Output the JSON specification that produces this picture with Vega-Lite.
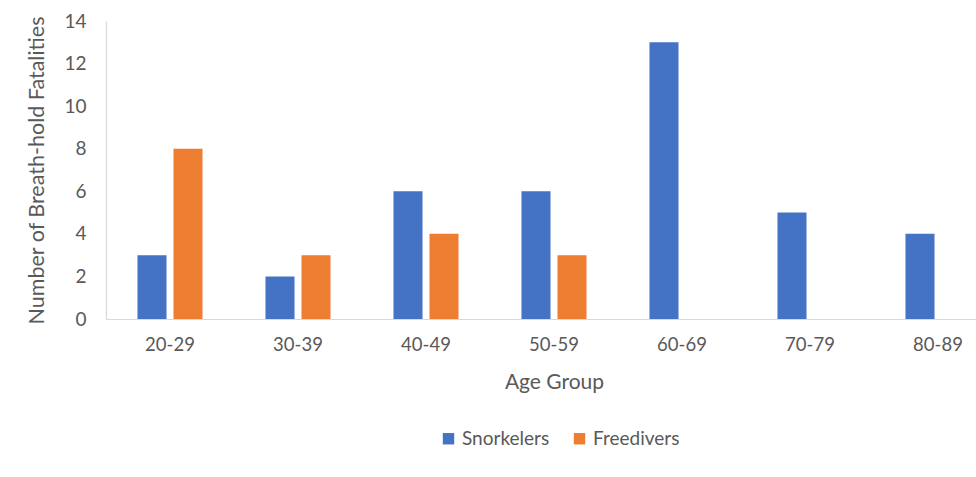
{
  "$schema": "https://vega.github.io/schema/vega-lite/v6.json",
  "autosize": {"type": "none"},
  "padding": {"left": 106, "top": 21, "right": -26, "bottom": 158},
  "width": 896,
  "height": 298,
  "background": "white",
  "config": {
    "view": {"stroke": null},
    "font": "Lato",
    "axis": {"labelColor": "#595959", "titleColor": "#595959", "labelFont": "Lato", "titleFont": "Lato", "titleFontWeight": "normal"},
    "legend": {"labelColor": "#595959", "labelFont": "Lato"}
  },
  "data": {
    "values": [
      {"age": "20-29", "type": "Snorkelers", "n": 3},
      {"age": "20-29", "type": "Freedivers", "n": 8},
      {"age": "30-39", "type": "Snorkelers", "n": 2},
      {"age": "30-39", "type": "Freedivers", "n": 3},
      {"age": "40-49", "type": "Snorkelers", "n": 6},
      {"age": "40-49", "type": "Freedivers", "n": 4},
      {"age": "50-59", "type": "Snorkelers", "n": 6},
      {"age": "50-59", "type": "Freedivers", "n": 3},
      {"age": "60-69", "type": "Snorkelers", "n": 13},
      {"age": "70-79", "type": "Snorkelers", "n": 5},
      {"age": "80-89", "type": "Snorkelers", "n": 4}
    ]
  },
  "mark": {"type": "bar"},
  "encoding": {
    "x": {
      "field": "age", "type": "nominal", "sort": null,
      "scale": {"paddingInner": 0.492, "paddingOuter": 0.246},
      "axis": {"title": "Age Group", "labelAngle": 0, "labelFontSize": 18.5, "titleFontSize": 21, "labelPadding": 16, "titlePadding": 18, "ticks": false, "domainColor": "#d9d9d9", "domainWidth": 1.2}
    },
    "xOffset": {
      "field": "type", "type": "nominal",
      "scale": {"domain": ["Snorkelers", "Freedivers"], "paddingInner": 0.194, "paddingOuter": 0}
    },
    "y": {
      "field": "n", "type": "quantitative",
      "scale": {"domain": [0, 14], "nice": false},
      "axis": {"title": "Number of Breath-hold Fatalities", "values": [0, 2, 4, 6, 8, 10, 12, 14], "grid": false, "ticks": false, "labelFontSize": 19, "titleFontSize": 21.5, "labelPadding": 20, "titlePadding": 15, "domainColor": "#d9d9d9", "domainWidth": 1.2}
    },
    "color": {
      "field": "type", "type": "nominal",
      "scale": {"domain": ["Snorkelers", "Freedivers"], "range": ["#4472C4", "#ED7D31"]},
      "legend": {"title": null, "orient": "none", "legendX": 333, "legendY": 408, "direction": "horizontal", "symbolType": "square", "symbolSize": 130, "symbolStrokeWidth": 0, "labelFontSize": 19, "labelOffset": 4, "columnPadding": 20}
    }
  }
}
